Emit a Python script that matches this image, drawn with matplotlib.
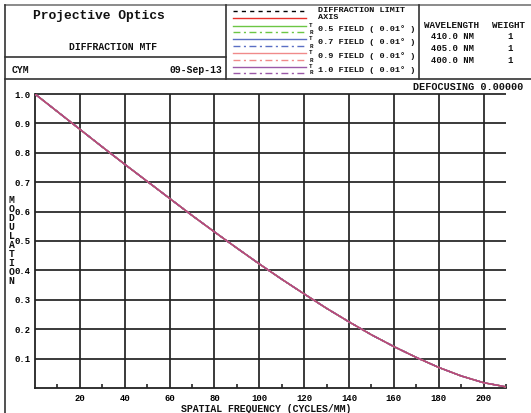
import matplotlib
matplotlib.use("Agg")
import matplotlib.pyplot as plt

# ---------------- data ----------------
freq = [0, 10, 20, 30, 40, 50, 60, 70, 80, 90, 100, 110, 120, 130, 140,
        150, 160, 170, 180, 190, 200, 210]
diffraction_limit = [1.000, 0.940, 0.880, 0.820, 0.761, 0.703, 0.645, 0.587,
                     0.531, 0.476, 0.422, 0.370, 0.320, 0.271, 0.225, 0.181,
                     0.141, 0.104, 0.070, 0.041, 0.018, 0.004]
axis_mtf = list(diffraction_limit)
field_05_t = list(diffraction_limit)
field_05_r = list(diffraction_limit)
field_07_t = list(diffraction_limit)
field_07_r = list(diffraction_limit)
field_09_t = list(diffraction_limit)
field_09_r = list(diffraction_limit)
field_10_t = list(diffraction_limit)
field_10_r = list(diffraction_limit)

x_ticks = [20, 40, 60, 80, 100, 120, 140, 160, 180, 200]
x_minor = [10, 30, 50, 70, 90, 110, 130, 150, 170, 190, 210]
y_ticks = [0.1, 0.2, 0.3, 0.4, 0.5, 0.6, 0.7, 0.8, 0.9, 1.0]
y_labels = ["0.1", "0.2", "0.3", "0.4", "0.5", "0.6", "0.7", "0.8", "0.9", "1.0"]

field_names = ["0.5 FIELD ( 0.01\u00b0 )", "0.7 FIELD ( 0.01\u00b0 )",
               "0.9 FIELD ( 0.01\u00b0 )", "1.0 FIELD ( 0.01\u00b0 )"]
wavelengths = ["410.0 NM", "405.0 NM", "400.0 NM"]
weights = ["1", "1", "1"]

# ---------------- styles ----------------
FONT = "Liberation Mono"
C_AXIS = "#e8302a"
FIELD_COLORS = ["#6cc644", "#5a6fc4", "#f08a8a", "#9b59a8"]
DD = (0, (5, 2.5, 1.5, 2.5))
DIFF_DASH = (0, (3, 3))

W, H = 531, 413
fig = plt.figure(figsize=(W / 100, H / 100), dpi=100)
fig.patch.set_facecolor("white")


def fx(px):
    return px / W


def fy(py):
    return 1 - py / H


# ---------------- main plot ----------------
ax = fig.add_axes([fx(35), fy(388), fx(506) - fx(35), fy(94) - fy(388)])
ax.set_xlim(0, 210)
ax.set_ylim(0, 1.0)
for s in ["top", "right"]:
    ax.spines[s].set_visible(False)
for s in ["left", "bottom"]:
    ax.spines[s].set_color("#222222")
    ax.spines[s].set_linewidth(1.3)

gc = "#222222"
ax.hlines(y_ticks, 0, 210, colors=gc, linewidth=1.25, clip_on=False, zorder=1)
ax.vlines(x_ticks, 0, 1.0, colors=gc, linewidth=1.25, clip_on=False, zorder=1)

ax.plot(freq, diffraction_limit, color="black", linestyle=DIFF_DASH, lw=1.0, zorder=3)
ax.plot(freq, axis_mtf, color=C_AXIS, lw=1.0, zorder=3)
series = [(field_05_t, field_05_r), (field_07_t, field_07_r),
          (field_09_t, field_09_r), (field_10_t, field_10_r)]
for (t, r), c in zip(series, FIELD_COLORS):
    ax.plot(freq, t, color=c, lw=1.0, zorder=3)
    ax.plot(freq, r, color=c, lw=1.0, linestyle=DD, zorder=3)
# red axis curve shows through
ax.plot(freq, axis_mtf, color=C_AXIS, lw=0.7, alpha=0.5, zorder=4)

ax.set_xticks(x_ticks)
ax.set_xticklabels([str(v) for v in x_ticks], fontfamily=FONT,
                   fontweight="bold", fontsize=6.4)
ax.set_xticks(x_minor, minor=True)
ax.tick_params(axis="x", which="major", length=0, pad=4)
ax.tick_params(axis="x", which="minor", direction="in", length=3,
               width=1.2, color=gc)
ax.set_yticks(y_ticks)
ax.set_yticklabels(y_labels, fontfamily=FONT, fontweight="bold", fontsize=6.4)
ax.tick_params(axis="y", which="major", length=0, pad=3)

# ---------------- header / frame overlay ----------------
hd = fig.add_axes([0, 0, 1, 1], zorder=-1)
hd.set_xlim(0, W)
hd.set_ylim(H, 0)
hd.axis("off")

lc = "#333333"
lw = 1.2
hd.plot([5, W], [4.5, 4.5], color="#777777", lw=lw)
hd.plot([5, 5], [4.5, H], color=lc, lw=lw)
hd.plot([5, W], [79, 79], color=lc, lw=lw)
hd.plot([5, 226], [57, 57], color=lc, lw=lw)
hd.plot([226, 226], [4.5, 79], color=lc, lw=lw)
hd.plot([419, 419], [4.5, 79], color=lc, lw=lw)

tk = dict(fontfamily=FONT, fontweight="bold", color="#111111")
hd.text(33, 16.5, "Projective Optics", fontsize=9.4, ha="left", va="center", **tk)
hd.text(113, 47, "DIFFRACTION MTF", fontsize=7.0, ha="center", va="center", **tk)
hd.text(12, 70, "CYM", fontsize=7.0, ha="left", va="center", **tk)
hd.text(222, 70, "09-Sep-13", fontsize=7.0, ha="right", va="center", **tk)

# legend
lx0, lx1 = 233, 306
hd.plot([lx0, lx1], [11, 11], color="black", lw=1.0, linestyle=DIFF_DASH)
hd.plot([lx0, lx1], [18.3, 18.3], color=C_AXIS, lw=1.0)
hd.text(318, 10, "DIFFRACTION LIMIT", fontsize=6.1, ha="left", va="center", **tk)
hd.text(318, 17.3, "AXIS", fontsize=6.1, ha="left", va="center", **tk)
ys_t = [25.7, 39.3, 52.7, 66.7]
ys_r = [32.3, 45.7, 59.7, 72.7]
for name, c, yt, yr in zip(field_names, FIELD_COLORS, ys_t, ys_r):
    hd.plot([lx0, lx1], [yt, yt], color=c, lw=1.0)
    hd.plot([lx0, lx1], [yr, yr], color=c, lw=1.0, linestyle=DD)
    hd.text(311, yt - 0.3, "T", fontsize=4.2, ha="center", va="center", **tk)
    hd.text(311, yr + 0.3, "R", fontsize=4.2, ha="center", va="center", **tk)
    hd.text(318, (yt + yr) / 2, name, fontsize=6.1, ha="left", va="center", **tk)

# wavelength table
hd.text(424, 25, "WAVELENGTH", fontsize=6.7, ha="left", va="center", **tk)
hd.text(492, 25, "WEIGHT", fontsize=6.7, ha="left", va="center", **tk)
for i, (wl, wt) in enumerate(zip(wavelengths, weights)):
    yy = 36.7 + 11.8 * i
    hd.text(431, yy, wl, fontsize=6.4, ha="left", va="center", **tk)
    hd.text(510, yy, wt, fontsize=6.4, ha="center", va="center", **tk)

hd.text(523, 87, "DEFOCUSING 0.00000", fontsize=7.3, ha="right", va="center", **tk)

# axis labels
hd.text(266, 408.5, "SPATIAL FREQUENCY (CYCLES/MM)", fontsize=7.1,
        ha="center", va="center", **tk)
hd.text(11.5, 240.5, "\n".join("MODULATION"), fontsize=7.0, ha="center",
        va="center", linespacing=0.87, **tk)

fig.savefig("out.png", dpi=100, facecolor="white")
